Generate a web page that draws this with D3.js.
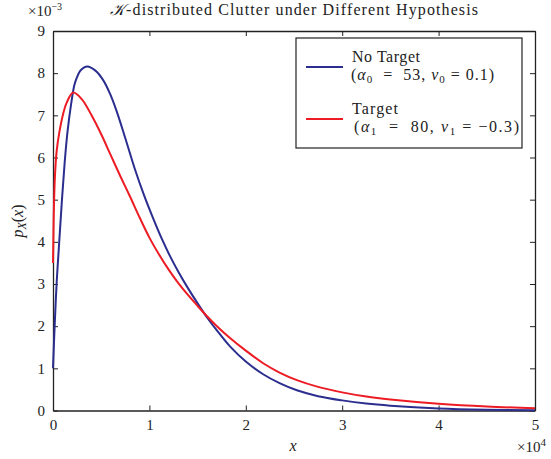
<!DOCTYPE html>
<html>
<head>
<meta charset="utf-8">
<script src="https://cdn.jsdelivr.net/npm/d3@7"></script>
<style>
  body { margin: 0; background: #fff; }
  text { font-family: "Liberation Serif", "DejaVu Serif", serif; fill: #222; white-space: pre; }
</style>
</head>
<body>
<svg id="chart" width="551" height="459"></svg>
<script>
// valeurs (x en 1e4, y en 1e-3)
const xTicks = [0, 1, 2, 3, 4, 5];
const yTicks = [0, 1, 2, 3, 4, 5, 6, 7, 8, 9];

const noTargetX = [0, 0.017, 0.038, 0.066, 0.093, 0.12, 0.15, 0.19, 0.22, 0.245, 0.28, 0.32, 0.356, 0.44, 0.522, 0.59, 0.66, 0.755, 0.85, 0.945, 1.04, 1.127, 1.214, 1.3, 1.387, 1.5, 1.6, 1.7, 1.836, 2.0, 2.18, 2.35, 2.53, 2.75, 3.0, 3.25, 3.5, 4.0, 4.5, 5.0];
const noTargetY = [1.0, 2.0, 3.03, 4.05, 5.0, 5.85, 6.6, 7.3, 7.7, 7.88, 8.05, 8.13, 8.16, 8.06, 7.83, 7.52, 7.1, 6.42, 5.72, 5.1, 4.55, 4.08, 3.66, 3.29, 2.95, 2.54, 2.2, 1.9, 1.52, 1.16, 0.86, 0.65, 0.48, 0.34, 0.24, 0.165, 0.115, 0.05, 0.02, 0.008];

const targetX = [0, 0.005, 0.01, 0.02, 0.038, 0.066, 0.107, 0.142, 0.21, 0.3, 0.4, 0.5, 0.6, 0.7, 0.8, 0.9, 1.0, 1.1, 1.2, 1.3, 1.4, 1.5, 1.6, 1.7, 1.836, 2.0, 2.18, 2.35, 2.53, 2.75, 3.0, 3.25, 3.5, 4.0, 4.5, 5.0];
const targetY = [3.5, 4.25, 4.85, 5.55, 6.15, 6.6, 7.05, 7.3, 7.54, 7.38, 7.0, 6.55, 6.05, 5.55, 5.07, 4.57, 4.1, 3.7, 3.34, 3.02, 2.74, 2.48, 2.23, 2.0, 1.72, 1.42, 1.12, 0.9, 0.72, 0.56, 0.43, 0.33, 0.26, 0.16, 0.095, 0.055];

const svg = d3.select("#chart");
const pLeft = 53, pRight = 535, pTop = 31, pBottom = 410.5;

const x = d3.scaleLinear().domain([0, 5]).range([pLeft, pRight]);
const y = d3.scaleLinear().domain([0, 9]).range([pBottom, pTop]);

// Axes (ticks vers l'intérieur, boîte MATLAB)
const axB = svg.append("g").attr("transform", `translate(0,${pBottom})`)
    .call(d3.axisBottom(x).tickValues(xTicks).tickSizeInner(-5).tickSizeOuter(0).tickPadding(7).tickFormat(d3.format("d")));
const axT = svg.append("g").attr("transform", `translate(0,${pTop})`)
    .call(d3.axisTop(x).tickValues(xTicks).tickSizeInner(-5).tickSizeOuter(0).tickFormat(""));
const axL = svg.append("g").attr("transform", `translate(${pLeft},0)`)
    .call(d3.axisLeft(y).tickValues(yTicks).tickSizeInner(-5).tickSizeOuter(0).tickPadding(8).tickFormat(d3.format("d")));
const axR = svg.append("g").attr("transform", `translate(${pRight},0)`)
    .call(d3.axisRight(y).tickValues(yTicks).tickSizeInner(-5).tickSizeOuter(0).tickFormat(""));

[axB, axT, axL, axR].forEach(a => {
    a.select(".domain").attr("stroke", "#222").attr("stroke-width", 1.3);
    a.selectAll(".tick line").attr("stroke", "#222");
    a.selectAll("text").attr("font-size", 15).attr("font-family", "Liberation Serif").attr("fill", "#222");
});
axB.selectAll(".tick text").attr("dy", "0.85em");

// Courbes
const line = d3.line().x(d => x(d[0])).y(d => y(d[1])).curve(d3.curveCatmullRom.alpha(0.5));
const noTarget = noTargetX.map((v, i) => [v, noTargetY[i]]);
const target = targetX.map((v, i) => [v, targetY[i]]);

svg.append("path").datum(noTarget).attr("d", line)
    .attr("fill", "none").attr("stroke", "#2b2e8e").attr("stroke-width", 2);
svg.append("path").datum(target).attr("d", line)
    .attr("fill", "none").attr("stroke", "#ed1c24").attr("stroke-width", 2);

// Titre et exposants
svg.append("text").attr("x", 110).attr("y", 15).attr("font-size", 16)
    .attr("textLength", 368).attr("lengthAdjust", "spacing")
    .html('<tspan font-style="italic">𝒦</tspan>-distributed Clutter under Different Hypothesis');
svg.append("text").attr("x", 28).attr("y", 16).attr("font-size", 15)
    .html('×10<tspan dy="-6" font-size="10">−3</tspan>');
svg.append("text").attr("x", 517).attr("y", 452).attr("font-size", 15)
    .html('×10<tspan dy="-6" font-size="11">4</tspan>');

// Labels
svg.append("text").attr("x", 293).attr("y", 451).attr("text-anchor", "middle").attr("font-size", 16)
    .attr("font-style", "italic").text("x");
svg.append("text").attr("transform", "translate(23,221) rotate(-90)").attr("text-anchor", "middle").attr("font-size", 16)
    .html('<tspan font-style="italic">p</tspan><tspan font-style="italic" font-size="12" dy="3">X</tspan><tspan dy="-3">(</tspan><tspan font-style="italic">x</tspan>)');

// Légende
const lg = svg.append("g");
lg.append("rect").attr("x", 296).attr("y", 38).attr("width", 226).attr("height", 110)
    .attr("fill", "#fff").attr("stroke", "#222").attr("stroke-width", 1.2);
lg.append("line").attr("x1", 306).attr("x2", 343).attr("y1", 67).attr("y2", 67)
    .attr("stroke", "#2b2e8e").attr("stroke-width", 2);
lg.append("line").attr("x1", 306).attr("x2", 343).attr("y1", 119).attr("y2", 119)
    .attr("stroke", "#ed1c24").attr("stroke-width", 2);
lg.append("text").attr("x", 352).attr("y", 62).attr("font-size", 16)
    .attr("textLength", 68).attr("lengthAdjust", "spacing").text("No Target");
lg.append("text").attr("x", 351).attr("y", 80).attr("font-size", 16)
    .attr("textLength", 143).attr("lengthAdjust", "spacing")
    .html('(<tspan font-style="italic">α</tspan><tspan font-size="11" dy="3">0</tspan><tspan dy="-3">  =  53, </tspan><tspan font-style="italic">ν</tspan><tspan font-size="11" dy="3">0</tspan><tspan dy="-3"> = 0.1)</tspan>');
lg.append("text").attr("x", 352).attr("y", 114).attr("font-size", 16)
    .attr("textLength", 46).attr("lengthAdjust", "spacing").text("Target");
lg.append("text").attr("x", 354).attr("y", 132).attr("font-size", 16)
    .attr("textLength", 165).attr("lengthAdjust", "spacing")
    .html('(<tspan font-style="italic">α</tspan><tspan font-size="11" dy="3">1</tspan><tspan dy="-3">  =  80, </tspan><tspan font-style="italic">ν</tspan><tspan font-size="11" dy="3">1</tspan><tspan dy="-3"> = −0.3)</tspan>');
</script>
</body>
</html>
